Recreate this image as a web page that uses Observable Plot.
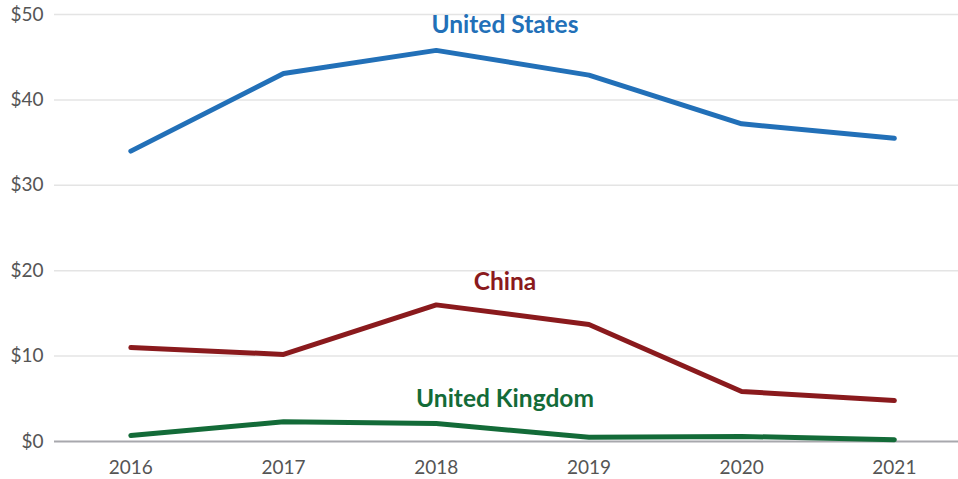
<!DOCTYPE html>
<html>
<head>
<meta charset="utf-8">
<script src="https://cdn.jsdelivr.net/npm/d3@7"></script>
<script src="https://cdn.jsdelivr.net/npm/@observablehq/plot@0.6"></script>
<style>
  html, body { margin: 0; padding: 0; background: #fff; }
  #chart svg { display: block; }
</style>
</head>
<body>
<div id="chart"></div>
<script>
const years = [2016, 2017, 2018, 2019, 2020, 2021];
const usValues = [34.0, 43.1, 45.8, 42.9, 37.2, 35.5];
const chinaValues = [11.0, 10.2, 16.0, 13.7, 5.85, 4.8];
const ukValues = [0.7, 2.3, 2.1, 0.5, 0.6, 0.2];
const yTicks = [0, 10, 20, 30, 40, 50];

const seriesNames = ["United States", "China", "United Kingdom"];
const seriesColors = ["#2270b8", "#8a1a1d", "#136b38"];
const seriesValues = [usValues, chinaValues, ukValues];
const labelY = [48.8, 18.6, 5.0];
const labelX = [2018.45, 2018.45, 2018.45];

const data = [];
seriesNames.forEach((name, i) => {
  years.forEach((yr, j) => data.push({series: name, year: yr, value: seriesValues[i][j]}));
});
const labels = seriesNames.map((name, i) => ({series: name, x: labelX[i], y: labelY[i]}));

const plot = Plot.plot({
  width: 958,
  height: 479,
  marginLeft: 54,
  marginRight: 0,
  marginTop: 14,
  marginBottom: 38,
  style: {fontFamily: "Lato, 'Noto Sans', sans-serif", background: "#fff"},
  x: {domain: [2015.5, 2021.42], ticks: years, tickFormat: d => String(d), label: null, tickSize: 0, tickPadding: 0},
  y: {domain: [0, 50], ticks: yTicks, tickFormat: d => "$" + d, label: null, tickSize: 0},
  color: {domain: seriesNames, range: seriesColors},
  marks: [
    Plot.gridY(yTicks.filter(d => d > 0), {stroke: "#e4e4e4", strokeOpacity: 1, strokeWidth: 1.5}),
    Plot.ruleY([0], {stroke: "#a8a8ad", strokeWidth: 2}),
    Plot.axisY({ticks: yTicks, tickFormat: d => "$" + d, tickSize: 0, tickPadding: 11, fontSize: 19, fill: "#555", label: null}),
    Plot.axisX({ticks: years, tickFormat: d => String(d), tickSize: 0, tickPadding: 19, fontSize: 19, fill: "#555", label: null}),
    Plot.line(data, {x: "year", y: "value", z: "series", stroke: "series", strokeWidth: 5, strokeLinecap: "round", strokeLinejoin: "miter"}),
    Plot.text(labels, {x: "x", y: "y", text: "series", fill: "series", fontSize: 24.5, fontWeight: "bold"})
  ]
});
document.getElementById("chart").appendChild(plot);
</script>
</body>
</html>
